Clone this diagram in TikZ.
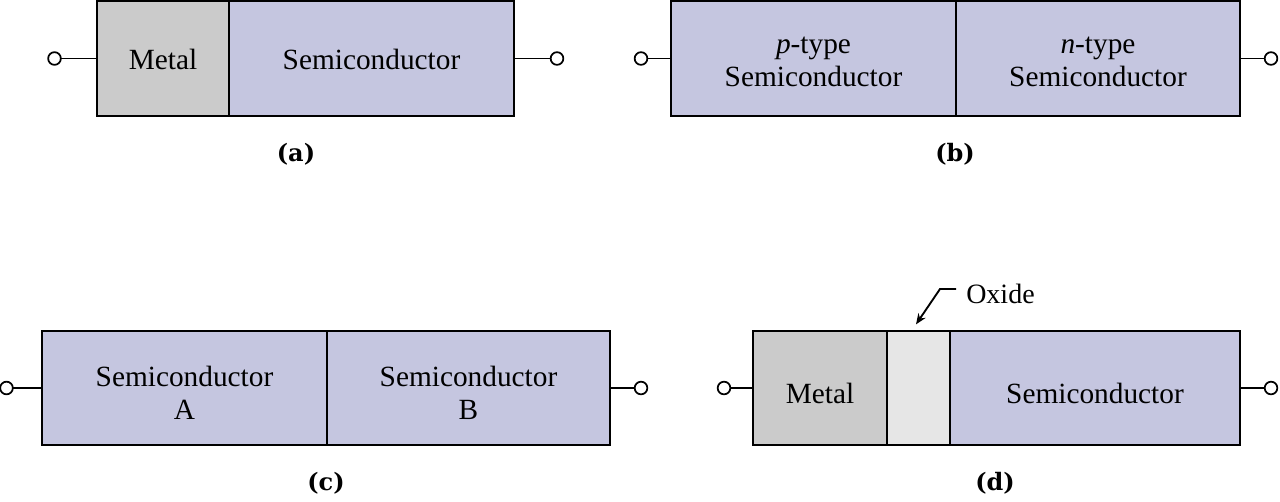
\documentclass[tikz,border=0pt]{standalone}
\usepackage{fontspec}
\setmainfont{Liberation Serif}
\newfontfamily\labfont{DejaVu Serif}
\usetikzlibrary{arrows.meta}
\definecolor{semicol}{HTML}{C5C6E0}
\definecolor{metalcol}{HTML}{CBCBCB}
\definecolor{oxidecol}{HTML}{E6E6E6}
\newcommand\lowered[2][3.5pt]{\raisebox{-#1}[\height][\depth]{\begin{tabular}{@{}c@{}}#2\end{tabular}}}
\begin{document}
\begin{tikzpicture}[x=0.75pt,y=-0.75pt,
  region/.style={draw=black, line width=1.4pt, inner sep=0pt, outer sep=0pt, align=center,
    font=\fontsize{22}{24.75}\selectfont},
  semibox/.style={region, fill=semicol},
  metalbox/.style={region, fill=metalcol},
  oxidebox/.style={region, fill=oxidecol},
  term/.style={circle, draw=black, line width=1.3pt, fill=white, minimum size=9.5pt, inner sep=0pt, outer sep=0pt},
  lead/.style={line width=1.4pt},
  sublabel/.style={font=\labfont\bfseries\fontsize{18}{21}\selectfont},
  textlabel/.style={font=\fontsize{21}{24}\selectfont, inner sep=0pt}
]
\useasboundingbox (0,0) rectangle (1280,501);

% (a)
\node[metalbox, minimum width=99pt, minimum height=86.25pt] (aM) at (163,58.5) {\lowered{Metal}};
\node[semibox, minimum width=213.75pt, minimum height=86.25pt] (aS) at (371.5,58.5) {\lowered{Semiconductor}};
\draw[line width=1.4pt] (aM.north east) -- (aM.south east);
\node[term] (aL) at (54.5,58.5) {};
\node[term] (aR) at (557,58.5) {};
\draw[lead] (aL) -- (aM.west);
\draw[lead] (aS.east) -- (aR);
\node[sublabel] (la) at (296,154) {(a)};

% (b)
\node[semibox, minimum width=213.75pt, minimum height=86.25pt] (bP) at (813.5,58.5) {\lowered{\textit{p}-type\\Semiconductor}};
\node[semibox, minimum width=213pt, minimum height=86.25pt] (bN) at (1098,58.5) {\lowered{\textit{n}-type\\Semiconductor}};
\draw[line width=1.4pt] (bP.north east) -- (bP.south east);
\node[term] (bL) at (641,58.5) {};
\node[term] (bR) at (1271,58.5) {};
\draw[lead] (bL) -- (bP.west);
\draw[lead] (bN.east) -- (bR);
\node[sublabel] (lb) at (955,154) {(b)};

% (c)
\node[semibox, minimum width=213.75pt, minimum height=85.5pt] (cA) at (184.5,388) {\lowered[6.5pt]{Semiconductor\\A}};
\node[semibox, minimum width=212.25pt, minimum height=85.5pt] (cB) at (468.5,388) {\lowered[6.5pt]{Semiconductor\\B}};
\draw[line width=1.4pt] (cA.north east) -- (cA.south east);
\node[term] (cL) at (6.5,388) {};
\node[term] (cR) at (641,388) {};
\draw[lead] (cL) -- (cA.west);
\draw[lead] (cB.east) -- (cR);
\node[sublabel] (lc) at (326,483) {(c)};

% (d)
\node[metalbox, minimum width=100.5pt, minimum height=85.5pt] (dM) at (820,388) {\lowered[6.5pt]{Metal}};
\node[oxidebox, minimum width=47.25pt, minimum height=85.5pt] (dO) at (918.5,388) {};
\node[semibox, minimum width=217.5pt, minimum height=85.5pt] (dS) at (1095,388) {\lowered[6.5pt]{Semiconductor}};
\draw[line width=1.4pt] (dM.north east) -- (dM.south east);
\draw[line width=1.4pt] (dO.north east) -- (dO.south east);
\node[term] (dL) at (724,388) {};
\node[term] (dR) at (1271,388) {};
\draw[lead] (dL) -- (dM.west);
\draw[lead] (dS.east) -- (dR);
\node[sublabel] (ld) at (995,483) {(d)};

% Oxide pointer
\node[textlabel, anchor=west] (ox) at (966,294) {Oxide};
\coordinate (oxstart) at (956,289);
\coordinate (oxbend) at (940,289);
\coordinate (oxtip) at ([yshift=5pt]dO.north -| 916,0);
\draw[lead, -{Stealth[length=8pt,width=6.5pt]}] (oxstart) -- (oxbend) -- (oxtip);
\end{tikzpicture}
\end{document}
